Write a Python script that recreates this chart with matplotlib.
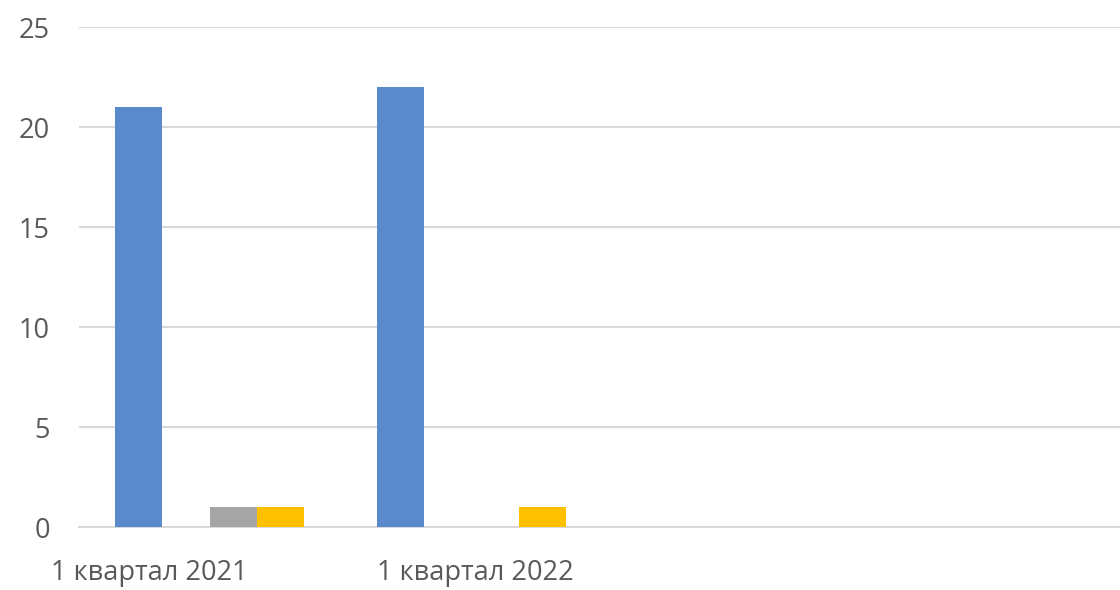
import matplotlib
matplotlib.use("Agg")
import matplotlib.pyplot as plt
import numpy as np

categories = ["1 квартал 2021", "1 квартал 2022", "", ""]
series1 = [21, 22, 0, 0]   # blue
series2 = [0, 0, 0, 0]     # orange
series3 = [1, 0, 0, 0]     # gray
series4 = [1, 1, 0, 0]     # yellow
yticks = [0, 5, 10, 15, 20, 25]

colors = ["#5A8ACB", "#ED7D31", "#A5A5A5", "#FFC000"]
series = [series1, series2, series3, series4]

fig = plt.figure(figsize=(11.2, 5.9), dpi=100)
ax = fig.add_axes([79/1120, 63/590, 1 - 79/1120, 500/590])

x = np.arange(len(categories))
bw = 0.181
offsets = [-1.5, -0.5, 0.5, 1.5]
for s, c, o in zip(series, colors, offsets):
    ax.bar(x + o * bw, s, width=bw, color=c, zorder=3)

ax.set_xlim(-0.5, 3.48)
ax.set_ylim(0, 25)
ax.set_yticks(yticks)
ax.set_yticklabels([str(t) for t in yticks])
ax.grid(axis="y", color="#D9D9D9", linewidth=1.5, zorder=0)
for sp in ["top", "right", "left"]:
    ax.spines[sp].set_visible(False)
ax.spines["bottom"].set_color("#D9D9D9")
ax.spines["bottom"].set_linewidth(1.5)
ax.tick_params(axis="y", length=0, pad=21, labelsize=19.5, labelcolor="#595959")
ax.tick_params(axis="x", length=0, pad=23, labelsize=19.5, labelcolor="#595959")

# label positions as drawn in the reference (first label is shifted left)
label_pos = [-0.23, 1.015]
ax.set_xticks(label_pos)
ax.set_xticklabels(categories[:2])
for lab in ax.get_xticklabels() + ax.get_yticklabels():
    lab.set_family("Open Sans")

fig.savefig("out.png", dpi=100)
